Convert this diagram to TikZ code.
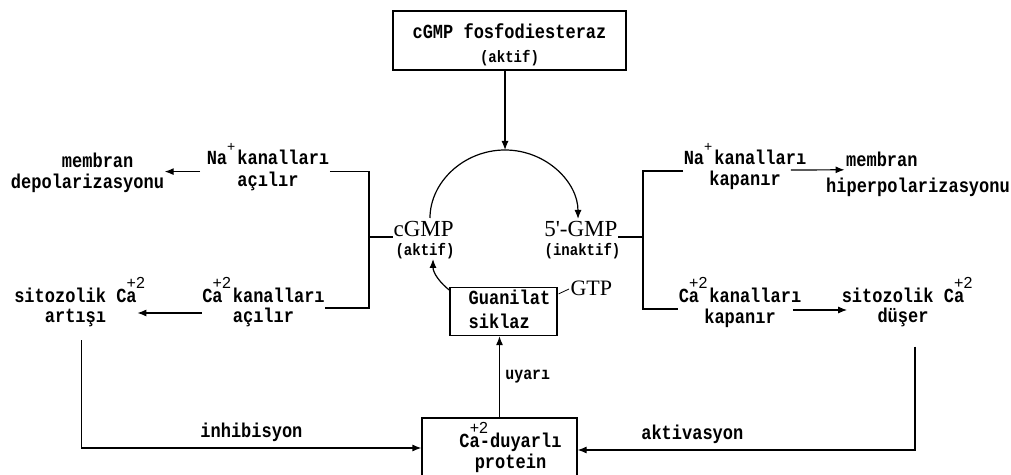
\documentclass[tikz,border=0pt]{standalone}
\usepackage{fontspec}
\setmainfont{Liberation Mono Bold}[FakeStretch=0.85]
\newfontfamily\serifb{Liberation Serif}
\newfontfamily\sansb{Liberation Sans}
\usetikzlibrary{arrows.meta,calc}
\newcommand\fsz[2]{\fontsize{#1bp}{#2bp}\selectfont}
\newcommand\plusup{\makebox[0pt][l]{\smash{\raisebox{13bp}{\sansb\fsz{14}{14}+}}}}
\newcommand\twoup{\makebox[0pt][l]{\smash{\hspace{-10bp}\raisebox{14bp}{\sansb\fsz{16}{16}+2}}}}
\begin{document}
\begin{tikzpicture}[x=1bp,y=-1bp,line width=1.2bp,
  lbl/.style={inner sep=0pt,align=center},
  box/.style={draw,inner sep=0pt,align=center},
  arr/.style={-{Latex[length=9bp,width=7bp]}}]
\useasboundingbox (0,0) rectangle (1011,475);
% boxes
\node[box,minimum width=233bp,minimum height=59bp,font=\fsz{20}{24}] (pde) at (509.5,40.5)
  {\rule{0pt}{27bp}cGMP fosfodiesteraz\\\fsz{16.5}{24}\strut(aktif)};
\node[box,align=left,minimum width=107bp,minimum height=47bp,font=\fsz{20}{24}] (guan) at (503.5,311.5)
  {\strut\hspace*{12bp}Guanilat\\\strut\hspace*{12bp}siklaz};
\node[box,minimum width=155bp,minimum height=72bp,font=\fsz{20}{20}] (prot) at (499.5,454)
  {\strut\hspace*{22bp}Ca\twoup-duyarlı\\\strut\hspace*{22bp}protein};
% labels
\node[lbl,font=\fsz{20}{22}] (napL) at (268,171.6) {\strut Na\plusup{} kanalları\\\strut açılır};
\node[lbl,align=left,font=\fsz{20}{20}] (memL) at (87.5,174) {\strut\hspace*{51bp}membran\\\strut depolarizasyonu};
\node[lbl,font=\fsz{20}{17}] (caL) at (263.5,308) {\strut Ca\twoup{} kanalları\\\strut açılır};
\node[lbl,font=\fsz{20}{17}] (sitL) at (75.5,308) {\strut sitozolik Ca\twoup\\\strut artışı};
\node[lbl,font=\fsz{20}{20}] (naR) at (745,171) {\strut Na\plusup{} kanalları\\\strut kapanır};
\node[lbl,align=left,font=\fsz{20}{26}] (memR) at (918,174.8) {\strut\hspace*{20bp}membran\\\strut hiperpolarizasyonu};
\node[lbl,font=\fsz{20}{20}] (caR) at (740,309) {\strut Ca\twoup{} kanalları\\\strut kapanır};
\node[lbl,font=\fsz{20}{17}] (sitR) at (903,308) {\strut sitozolik Ca\twoup\\\strut düşer};
% cGMP / 5'-GMP / GTP
\node[inner sep=0pt,anchor=base west,font=\serifb\fsz{23}{23}] (cgmp) at (393,237) {cGMP};
\node[inner sep=0pt,anchor=base,font=\fsz{16.5}{14}] (cgmpa) at (425,256) {(aktif)};
\node[inner sep=0pt,anchor=base east,font=\serifb\fsz{23}{23}] (gmp) at (618,237) {5'-GMP};
\node[inner sep=0pt,anchor=base,font=\fsz{16.5}{14}] (gmpa) at (582.5,256) {(inaktif)};
\node[inner sep=0pt,anchor=base west,font=\serifb\fsz{22}{22}] (gtp) at (570,296) {GTP};
% cycle
\coordinate (arcL) at (430,218);
\coordinate (arcT) at (505,150);
\coordinate (arcR) at (578,219);
\coordinate (arcB) at (433,259);
\draw[arr] (pde.south -| arcT) -- (arcT);
\draw[arr] (arcL) .. controls (430,182) and (464,150) .. (arcT) .. controls (546,150) and (578,182) .. (arcR);
\draw[arr] ($(guan.north west)+(1,4)$) .. controls (440,283) and (433,273) .. (arcB);
\draw[line width=0.8bp] ($(guan.north east)+(1,7)$) -- ($(gtp.base west)+(-1,-7)$);
% brackets
\coordinate (brL) at (369,237);
\coordinate (brR) at (643,237);
\draw (napL.east) -| (brL) |- (caL.east);
\draw (brL) -- (cgmp.base west);
\draw (naR.west) -| (brR) |- (caR.west);
\draw (gmp.base east) -- (brR);
% horizontal arrows
\draw[arr,shorten <=6bp] (napL.west) -- (napL.west -| memL.east);
\coordinate (c1) at ($(caL.west)+(0,5)$);
\draw[arr] (c1) -- (c1 -| sitL.east);
\draw[arr] ($(naR.east)+(-16,-1)$) -- ($(memR.west)+(19,-5)$);
\draw[arr] ($(caR.east)+(-9,1)$) -- ($(sitR.west)+(6,2)$);
% feedback
\draw[arr] ($(sitL.south)+(6,12)$) |- ($(prot.west)+(0,-6)$)
  node[pos=0.75,above=2bp,font=\fsz{20}{17}] (inh) {inhibisyon};
\draw[arr] ($(sitR.south)+(12,18)$) |- ($(prot.east)+(0,-4)$)
  node[pos=0.83,above=2bp,font=\fsz{20}{17}] (akt) {aktivasyon};
\draw[arr] (prot.north) -- (prot.north |- guan.south)
  node[midway,right=2bp,font=\fsz{17.5}{15}] (uy) {uyarı};
\end{tikzpicture}
\end{document}
